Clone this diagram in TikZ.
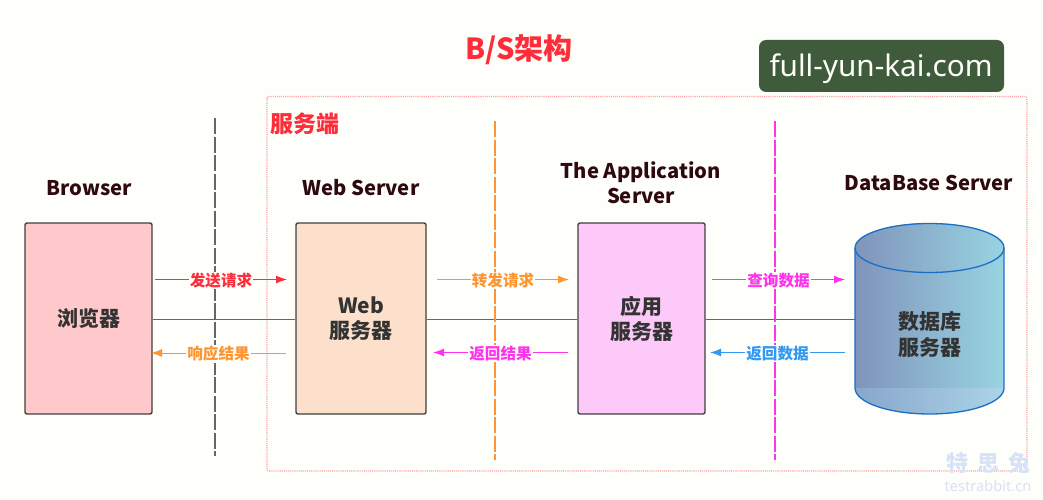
\documentclass[tikz,border=0pt]{standalone}
\usepackage{fontspec}
\setmainfont{Noto Sans CJK SC}
\newfontfamily\urlfont{Noto Sans}
\usetikzlibrary{arrows.meta}
\definecolor{pagebg}{HTML}{FEFEFA}
\definecolor{headtxt}{HTML}{2E0A10}
\definecolor{boxtxt}{HTML}{333333}
\definecolor{cred}{HTML}{FF2D3A}
\definecolor{corange}{HTML}{FF9530}
\definecolor{cmag}{HTML}{FF33EE}
\definecolor{cblue}{HTML}{3399F0}
\definecolor{cgray}{HTML}{666666}
\definecolor{cyledge}{HTML}{1A6FC4}
\tikzset{
  x=1pt,y=-1pt,
  srvbox/.style={draw=black!75,line width=1.4pt,rounded corners=2pt,inner sep=0pt,
    minimum height=191pt,align=center,font=\bfseries\fontsize{21}{26}\selectfont,text=boxtxt},
  head/.style={font=\bfseries\fontsize{20.2}{25}\selectfont,text=headtxt,align=center,inner sep=0pt},
  divider/.style={line width=1.1pt,dash pattern=on 16pt off 2.5pt},
  link/.style={draw=cgray,line width=1.2pt},
  msg/.style={line width=1pt,-{Latex[length=11pt,width=8pt]}},
  msglabel/.style={font=\bfseries\fontsize{15.6}{19}\selectfont,fill=pagebg,inner sep=1pt,yshift=-1pt},
}
\begin{document}
\begin{tikzpicture}
\useasboundingbox[fill=pagebg] (0,0) rectangle (1043,500);

% server zone
\draw[draw=cred!45,line width=1.1pt,densely dotted,rounded corners=2pt] (267,96.5) rectangle (1027,471);
\node[font=\bfseries\fontsize{23}{27}\selectfont,text=cred,inner sep=0pt] (zone) at (305,124) {服务端};
\node[font=\bfseries\fontsize{29}{34}\selectfont,text=cred,inner sep=0pt] (title) at (519,50) {B/S架构};

% site tag
\fill[fill={rgb,255:red,63;green,91;blue,59},rounded corners=7pt] (759,40) rectangle (1004,92);
\node[text=pagebg,font=\urlfont\fontsize{29.7}{35}\selectfont,inner sep=0pt] (tag) at (881,69) {full-yun-kai.com};

% dividers
\coordinate (d1a) at (215,118); \coordinate (d1b) at (215,456);
\coordinate (d2a) at (495,121); \coordinate (d2b) at (495,460);
\coordinate (d3a) at (775,121); \coordinate (d3b) at (775,460);

% database body
\begin{scope}
  \clip (855,248) -- (855,388) arc[start angle=180,end angle=360,x radius=74.5pt,y radius=26pt] -- (1004,248) arc[start angle=0,end angle=180,x radius=74.5pt,y radius=25pt] -- cycle;
  \shade[left color={rgb,255:red,128;green,148;blue,188},right color={rgb,255:red,152;green,212;blue,226}] (855,220) rectangle (1004,390);
  \shade[left color={rgb,255:red,136;green,166;blue,204},right color={rgb,255:red,172;green,212;blue,232}] (855,388) rectangle (1004,416);
\end{scope}
\draw[cyledge,line width=1.3pt] (855,248) -- (855,388) arc[start angle=180,end angle=360,x radius=74.5pt,y radius=26pt] -- (1004,248);
\draw[cyledge,line width=1.3pt] (929.5,248) ellipse[x radius=74.5pt,y radius=24.5pt];

% boxes
\node[srvbox,fill={rgb,255:red,255;green,200;blue,202},minimum width=127pt] (browser) at (88.5,318.5) {\raisebox{-1.5pt}{浏览器}};
\node[srvbox,fill={rgb,255:red,253;green,224;blue,203},minimum width=130pt] (web) at (361,318.5) {\raisebox{-2.5pt}{Web}\\[0pt]\raisebox{-1pt}{服务器}};
\node[srvbox,fill={rgb,255:red,252;green,201;blue,248},minimum width=127pt] (app) at (641.5,318.5) {\raisebox{-2pt}{应用}\\[0pt]\raisebox{-1pt}{服务器}};
\node[draw=none,inner sep=0pt,minimum width=149pt,minimum height=191pt,align=center,font=\bfseries\fontsize{21}{26}\selectfont,text=boxtxt] (db) at (929.5,334) {数据库\\服务器};
\coordinate (dbleft) at (855,319.5);

% headings
\node[head] (h1) at (89,188) {Browser};
\node[head] (h2) at (361,188) {Web Server};
\node[head] (h3) at (641,183) {The Application\\Server};
\node[head] (h4) at (929,183) {DataBase Server};

% central links
\draw[link] (browser.east |- 0,319.5) -- (web.west |- 0,319.5);
\draw[link] (web.east |- 0,319.5) -- (app.west |- 0,319.5);
\draw[link] (app.east |- 0,319.5) -- (dbleft);

% dividers on top of links
\draw[divider,draw=cgray,line width=1.4pt] (d1a) -- (d1b);
\draw[divider,draw=corange] (d2a) -- (d2b);
\draw[divider,draw=cmag] (d3a) -- (d3b);

% message arrows
\coordinate (a1s) at (155,279.5); \coordinate (a1e) at (287,279.5);
\coordinate (a2s) at (286,353);   \coordinate (a2e) at (151,353);
\coordinate (a3s) at (437,279.5); \coordinate (a3e) at (569,279.5);
\coordinate (a4s) at (568,352.5); \coordinate (a4e) at (433,352.5);
\coordinate (a5s) at (712,279.5); \coordinate (a5e) at (845,279.5);
\coordinate (a6s) at (845,352.5); \coordinate (a6e) at (710,352.5);
\draw[msg,cred] (a1s) -- node[msglabel] (l1) {发送请求} (a1e);
\draw[msg,corange] (a2s) -- node[msglabel] (l2) {响应结果} (a2e);
\draw[msg,corange] (a3s) -- node[msglabel] (l3) {转发请求} (a3e);
\draw[msg,cmag] (a4s) -- node[msglabel] (l4) {返回结果} (a4e);
\draw[msg,cmag] (a5s) -- node[msglabel] (l5) {查询数据} (a5e);
\draw[msg,cblue] (a6s) -- node[msglabel] (l6) {返回数据} (a6e);

% watermark
\node[font=\bfseries\fontsize{22}{26}\selectfont,text={rgb,255:red,216;green,226;blue,246},inner sep=0pt] (wm1) at (988,463) {特\hspace{9pt}思\hspace{9pt}兔};
\node[font=\urlfont\fontsize{14.6}{18}\selectfont,text={rgb,255:red,216;green,226;blue,246},inner sep=0pt] (wm2) at (988,486) {testrabbit.cn};
\end{tikzpicture}
\end{document}
